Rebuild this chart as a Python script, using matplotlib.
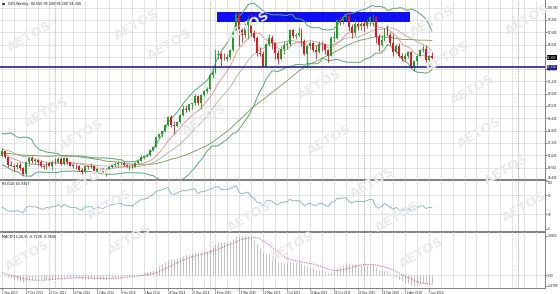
import numpy as np
import pandas as pd
import matplotlib
matplotlib.use("Agg")
import matplotlib.pyplot as plt
from matplotlib.patches import Rectangle

# ---------------- data (weekly DXY) ----------------
start_date = "2013-09-01"
n_weeks = 146

opens = [81.55, 82.15, 81.35, 80.40, 80.30, 80.15, 80.40, 79.95, 79.20, 80.70,
         81.25, 80.95, 81.00, 80.70, 80.30, 80.05, 80.60, 80.30, 80.80, 80.70,
         81.20, 80.45, 81.30, 80.70, 80.30, 80.25, 80.20, 79.70, 79.40, 80.20,
         80.10, 80.30, 79.45, 79.85, 79.80, 79.50, 79.90, 80.05, 80.40, 80.45,
         80.60, 80.65, 80.40, 80.20, 80.30, 80.10, 80.60, 80.95, 81.45, 81.50,
         81.70, 82.30, 82.75, 84.05, 84.35, 84.80, 85.60, 86.60, 85.55, 85.40,
         85.95, 86.90, 87.60, 87.55, 88.25, 88.40, 89.40, 88.40, 89.50, 90.05,
         90.30, 92.10, 92.50, 94.70, 94.80, 94.20, 94.15, 94.40, 95.30, 97.60,
         99.95, 97.90, 97.30, 98.55, 99.30, 97.50, 96.90, 95.00, 94.80, 93.15,
         96.10, 96.90, 96.30, 94.90, 94.20, 95.50, 96.00, 96.10, 97.90, 97.20,
         97.30, 97.60, 96.50, 94.80, 95.90, 96.20, 95.30, 95.10, 96.10, 96.05,
         95.30, 94.60, 96.90, 96.95, 99.20, 99.10, 99.60, 99.80, 98.30, 97.60,
         98.70, 98.50, 98.70, 98.50, 99.00, 99.60, 99.65, 97.00, 96.00, 96.60,
         98.10, 97.30, 96.20, 95.10, 95.90, 94.60, 94.10, 94.60, 95.10, 93.10,
         93.90, 94.60, 95.30, 95.50, 94.00, 94.55]

highs = [82.60, 82.20, 81.45, 80.95, 80.45, 80.80, 80.75, 80.05, 80.80, 81.45,
         81.50, 81.30, 81.10, 81.05, 80.35, 80.75, 80.75, 81.00, 81.30, 81.35,
         81.45, 81.35, 81.45, 80.95, 80.55, 80.45, 80.35, 79.95, 80.30, 80.30,
         80.65, 80.35, 79.95, 80.05, 80.00, 80.00, 80.20, 80.45, 80.70, 80.90,
         80.75, 80.85, 80.55, 80.35, 80.45, 80.70, 81.05, 81.65, 81.70, 81.80,
         82.40, 82.85, 84.10, 84.45, 84.85, 85.65, 86.75, 86.85, 86.10, 86.05,
         86.95, 88.20, 88.15, 88.35, 88.45, 89.55, 89.50, 89.60, 90.15, 90.55,
         92.35, 92.90, 95.50, 95.30, 95.05, 95.00, 94.85, 95.40, 97.75, 100.30,
         100.30, 98.15, 98.90, 99.70, 100.00, 97.95, 97.15, 95.70, 95.25, 96.20,
         97.35, 97.25, 96.40, 95.30, 95.80, 96.50, 96.50, 98.00, 98.00, 97.60,
         98.35, 98.15, 96.75, 96.00, 96.45, 96.35, 96.00, 96.50, 96.55, 96.15,
         95.40, 97.15, 97.85, 99.35, 99.60, 99.85, 100.00, 100.45, 98.75, 99.30,
         98.95, 99.00, 99.25, 99.30, 99.75, 99.95, 99.80, 97.40, 97.30, 98.20,
         98.60, 97.70, 97.35, 96.10, 96.25, 94.95, 95.00, 95.20, 95.20, 94.00,
         94.65, 95.40, 95.95, 95.95, 94.65, 95.10]

lows = [81.45, 81.25, 80.10, 80.20, 79.65, 79.90, 79.75, 79.05, 79.10, 80.30,
        80.60, 80.55, 80.40, 80.10, 79.80, 79.90, 80.20, 79.75, 80.55, 80.60,
        80.35, 80.40, 80.55, 80.20, 79.95, 79.80, 79.55, 79.25, 79.35, 79.90,
        80.00, 79.30, 79.35, 79.60, 79.40, 78.90, 79.80, 79.95, 80.30, 80.20,
        80.40, 80.30, 80.15, 79.75, 80.00, 80.05, 80.50, 80.90, 81.20, 81.35,
        81.60, 82.20, 82.70, 83.90, 84.00, 84.65, 85.50, 85.30, 84.45, 85.30,
        85.80, 86.80, 87.25, 87.40, 87.60, 88.20, 88.15, 87.65, 89.35, 89.80,
        90.25, 91.75, 92.30, 94.10, 93.30, 94.00, 93.90, 94.10, 95.20, 97.55,
        95.90, 96.40, 96.95, 96.80, 97.20, 96.55, 94.60, 94.55, 93.15, 93.10,
        95.85, 95.50, 94.20, 93.55, 94.00, 94.80, 95.45, 95.90, 96.90, 96.70,
        97.20, 95.90, 94.70, 93.00, 95.50, 95.10, 94.10, 95.00, 95.25, 94.85,
        93.80, 94.50, 96.40, 96.80, 98.55, 98.75, 99.30, 97.75, 96.90, 97.20,
        97.90, 97.90, 97.80, 98.20, 98.50, 98.50, 96.25, 95.25, 95.80, 96.50,
        97.10, 96.00, 94.60, 94.95, 94.45, 93.95, 93.95, 94.30, 93.00, 92.60,
        93.40, 94.50, 95.10, 93.80, 93.40, 94.20]

closes = [82.15, 81.35, 80.40, 80.30, 80.15, 80.40, 79.95, 79.20, 80.70, 81.25,
          80.95, 81.00, 80.70, 80.30, 80.05, 80.60, 80.30, 80.80, 80.70, 81.20,
          80.45, 81.30, 80.70, 80.30, 80.25, 80.20, 79.70, 79.40, 80.20, 80.10,
          80.30, 79.45, 79.85, 79.80, 79.50, 79.90, 80.05, 80.40, 80.45, 80.60,
          80.65, 80.40, 80.20, 80.30, 80.10, 80.60, 80.95, 81.45, 81.50, 81.70,
          82.30, 82.75, 84.05, 84.35, 84.80, 85.60, 86.60, 85.55, 85.40, 85.95,
          86.90, 87.60, 87.55, 88.25, 88.40, 89.40, 88.40, 89.50, 90.05, 90.30,
          92.10, 92.50, 94.80, 94.80, 94.20, 94.15, 94.40, 95.30, 97.60, 99.95,
          97.90, 97.30, 98.55, 99.30, 97.50, 96.90, 95.00, 94.80, 93.15, 96.10,
          96.90, 96.30, 94.90, 94.20, 95.50, 96.00, 96.10, 97.90, 97.20, 97.30,
          97.60, 96.50, 94.80, 95.90, 96.20, 95.30, 95.10, 96.10, 96.05, 95.30,
          94.60, 96.90, 96.95, 99.20, 99.10, 99.60, 99.80, 98.30, 97.60, 98.70,
          98.50, 98.70, 98.50, 99.00, 99.60, 99.65, 97.00, 96.00, 96.60, 98.10,
          97.30, 96.20, 95.10, 95.90, 94.60, 94.10, 94.60, 95.10, 93.10, 93.90,
          94.60, 95.30, 95.50, 94.00, 94.55, 94.30]

# closes before the visible window (estimated from where the bands/indicators start)
warmup_closes = [80.5, 79.6, 79.8, 79.3, 79.2, 80.2, 81.1, 81.5, 82.6, 82.7,
                 82.6, 83.0, 82.5, 82.4, 82.5, 83.0, 82.3, 82.2, 84.2, 83.9,
                 83.2, 81.7, 80.9, 82.2, 83.2, 84.6, 83.2, 82.6, 81.7, 81.9,
                 81.3, 81.2, 81.3, 81.55]

price_ticks = [78.445, 80.045, 81.645, 83.245, 84.845, 86.445, 88.045, 89.645,
               91.245, 92.845, 94.445, 96.045, 97.645, 99.245, 100.845]
hline_price = 93.11
zone_low, zone_high = 98.93, 100.26
zone_start_week, zone_end_week = 72.5, 137.5
label_every = 8
grid_every = 4
year_sep_weeks = [18, 70, 122, 174]

watermark = "AETOS"
watermark_px = [(30, 37), (137, 25), (170, 45), (248, 27), (433, 22), (448, 57),
                (473, 90), (528, 20), (320, 85), (47, 113), (82, 135), (480, 133),
                (507, 170), (88, 181), (110, 205), (130, 240), (28, 256), (250, 217),
                (373, 183), (398, 217), (422, 253), (293, 247), (525, 207), (205, 120),
                (330, 140)]

# ---------------- indicators ----------------
full = pd.Series(warmup_closes + closes, dtype=float)
nw = len(warmup_closes)
ma_fast = full.rolling(10, min_periods=1).mean().iloc[nw:].values
ma_mid = full.rolling(20, min_periods=1).mean().iloc[nw:].values
ma_slow = full.rolling(50, min_periods=1).mean().iloc[nw:].values
bb_m = full.rolling(20, min_periods=1).mean()
bb_s = full.rolling(20, min_periods=2).std(ddof=0)
bb_up = (bb_m + 2 * bb_s).iloc[nw:].values
bb_dn = (bb_m - 2 * bb_s).iloc[nw:].values

d = full.diff()
g = d.clip(lower=0)
l = -d.clip(upper=0)
ag = g.ewm(alpha=1 / 14, adjust=False).mean()
al = l.ewm(alpha=1 / 14, adjust=False).mean()
rsi = (100 - 100 / (1 + ag / al)).iloc[nw:].values

ema12 = full.ewm(span=12, adjust=False).mean()
ema26 = full.ewm(span=26, adjust=False).mean()
macd_s = ema12 - ema26
sig_s = macd_s.rolling(9, min_periods=1).mean()
macd = macd_s.iloc[nw:].values
sig = sig_s.iloc[nw:].values

# ---------------- figure ----------------
W, H = 560, 294
fig = plt.figure(figsize=(W / 100, H / 100), dpi=100)
fig.patch.set_facecolor("white")
plot_w = 545 / W

def fy(px_top, px_bot):
    return [0, 1 - px_bot / H, plot_w, (px_bot - px_top) / H]

ax = fig.add_axes(fy(0, 179.8))
ax_r = fig.add_axes(fy(179.8, 232), sharex=ax)
ax_m = fig.add_axes(fy(232, 287.5), sharex=ax)

x = np.arange(len(closes))
dates = pd.date_range(start_date, periods=n_weeks, freq="7D")
px_per_week = 2.965
xmin = -2 / px_per_week
xmax = xmin + 545 / px_per_week

FS = 2.0
FS_LBL = 2.4
grid_c = "#d8d8d8"
sep_c = "#808080"

# watermark (behind everything)
for (wx, wy) in watermark_px:
    fig.text(wx / W, 1 - wy / H, watermark, fontsize=9.5, fontweight="bold",
             color="#eaeaea", rotation=30, ha="center", va="center", zorder=0)

for a in (ax, ax_r, ax_m):
    a.patch.set_alpha(0)
    a.set_xlim(xmin, xmax)
    a.spines["left"].set_visible(False)
    a.spines["top"].set_visible(False)
    a.spines["bottom"].set_visible(False)
    a.spines["right"].set_color(sep_c)
    a.spines["right"].set_linewidth(0.7)
    a.yaxis.tick_right()
    a.tick_params(axis="y", labelsize=FS, length=1.5, width=0.4, pad=0.8, colors="#222222")
    a.tick_params(axis="x", length=0, labelbottom=False)
    for gx in range(0, int(xmax) + 1, grid_every):
        a.axvline(gx, color=grid_c, lw=0.5, zorder=0)
    for ys in year_sep_weeks:
        a.axvline(ys, color="#a0a0a0", lw=0.6, ls=(0, (1, 1)), zorder=0.5)

for a, lw in ((ax, 1.4), (ax_r, 1.4), (ax_m, 0.7)):
    a.spines["bottom"].set_visible(True)
    a.spines["bottom"].set_color(sep_c)
    a.spines["bottom"].set_linewidth(lw)

# ---- main panel ----
ax.set_ylim(price_ticks[0], price_ticks[0] + 179.8 / (12.3 / 1.6))
ax.set_yticks(price_ticks)
ax.set_yticklabels([f"{v:.3f}" for v in price_ticks])
ax.get_yticklabels()[0].set_va("bottom")
for v in price_ticks:
    ax.axhline(v, color=grid_c, lw=0.5, zorder=0)

ax.add_patch(Rectangle((zone_start_week, zone_low), zone_end_week - zone_start_week,
                       zone_high - zone_low, facecolor="#1010ee", edgecolor="none", zorder=1))

ax.plot(x, bb_up, color="#5aa878", lw=0.7, zorder=2)
ax.plot(x, bb_dn, color="#5aa878", lw=0.7, zorder=2)
ax.plot(x, ma_slow, color="#6f9e4a", lw=0.6, zorder=2)
ax.plot(x, ma_mid, color="#b8ae98", lw=0.6, zorder=2)
ax.plot(x, ma_fast, color="#e88a8a", lw=0.6, zorder=2)

o = np.array(opens); c = np.array(closes); h = np.array(highs); lo = np.array(lows)
up = c >= o
cols = np.where(up, "#1f9e2a", "#e8141e")
ax.vlines(x, lo, h, colors=cols, lw=0.6, zorder=3)
body = np.maximum(np.abs(c - o), 0.06)
ax.bar(x, body, bottom=np.minimum(o, c), width=0.64, color=cols, edgecolor="none", zorder=4)

ax.axhline(hline_price, color="#23238e", lw=1.2, zorder=5)

box_kw = dict(transform=ax.get_yaxis_transform(), fontsize=FS, color="white", va="center",
              ha="left", zorder=10, clip_on=False)
ax.text(1.004, c[-1], f"{c[-1]:.3f}", bbox=dict(boxstyle="square,pad=0.2", fc="black", ec="none"),
        **box_kw)
ax.text(1.004, hline_price, f"{hline_price:.3f}",
        bbox=dict(boxstyle="square,pad=0.2", fc="#23238e", ec="none"), **box_kw)

ax.text(0.004, 0.988, "\u25A0", transform=ax.transAxes, fontsize=2.4, va="top", ha="left", color="#333333")
ax.text(0.014, 0.988, f"DXY,Weekly  {o[-1]:.3f} {h[-1]:.3f} {lo[-1]:.3f} {c[-1]:.3f}",
        transform=ax.transAxes, fontsize=FS_LBL, va="top", ha="left", color="#111111")

# ---- RSI panel ----
ax_r.set_ylim(100 - 52.2 / 0.49, 100 + 1.0 / 0.49)
ax_r.set_yticks([100, 70, 30, 0])
ax_r.set_yticklabels(["100", "70", "30", "0"])
ax_r.get_yticklabels()[0].set_va("top")
for v in (70, 30):
    ax_r.axhline(v, color=grid_c, lw=0.5, zorder=0)
ax_r.plot(x, rsi, color="#80b4c4", lw=0.6, zorder=3)
ax_r.text(0.004, 0.95, f"RSI(14) {rsi[-1]:.4f}", transform=ax_r.transAxes, fontsize=FS_LBL,
          va="top", ha="left", color="#111111")

# ---- MACD panel ----
mtop, mbot = np.nanmax(macd), np.nanmin(np.minimum(macd, sig))
ppu = 50 / (mtop - mbot)
ax_m.set_ylim(mbot - 2 / ppu, mtop + 3.5 / ppu)
ax_m.set_yticks([mtop, 0.0, mbot])
ax_m.set_yticklabels([f"{mtop:.4f}", "0.00", f"{mbot:.4f}"])
ax_m.axhline(0, color=grid_c, lw=0.5, zorder=0)
ax_m.vlines(x, 0, macd, colors="#a0a0a0", lw=0.45, zorder=2)
ax_m.plot(x, sig, color="#e0607a", lw=0.7, ls=(0, (1.2, 1.2)), zorder=3)
ax_m.text(0.004, 0.95, f"MACD(12,26,9) {macd[-1]:.4f} {sig[-1]:.4f}", transform=ax_m.transAxes,
          fontsize=FS_LBL, va="top", ha="left", color="#111111")

# x labels
ticks = list(range(0, n_weeks, label_every))
ax_m.set_xticks(ticks)
ax_m.tick_params(axis="x", labelbottom=True, labelsize=FS, length=1.5, width=0.4, pad=0.8,
                 colors="#222222")
ax_m.set_xticklabels([f"{dates[t].day} {dates[t].strftime('%b %Y')}" for t in ticks], ha="left")

fig.savefig("out.png", dpi=100, facecolor="white")
